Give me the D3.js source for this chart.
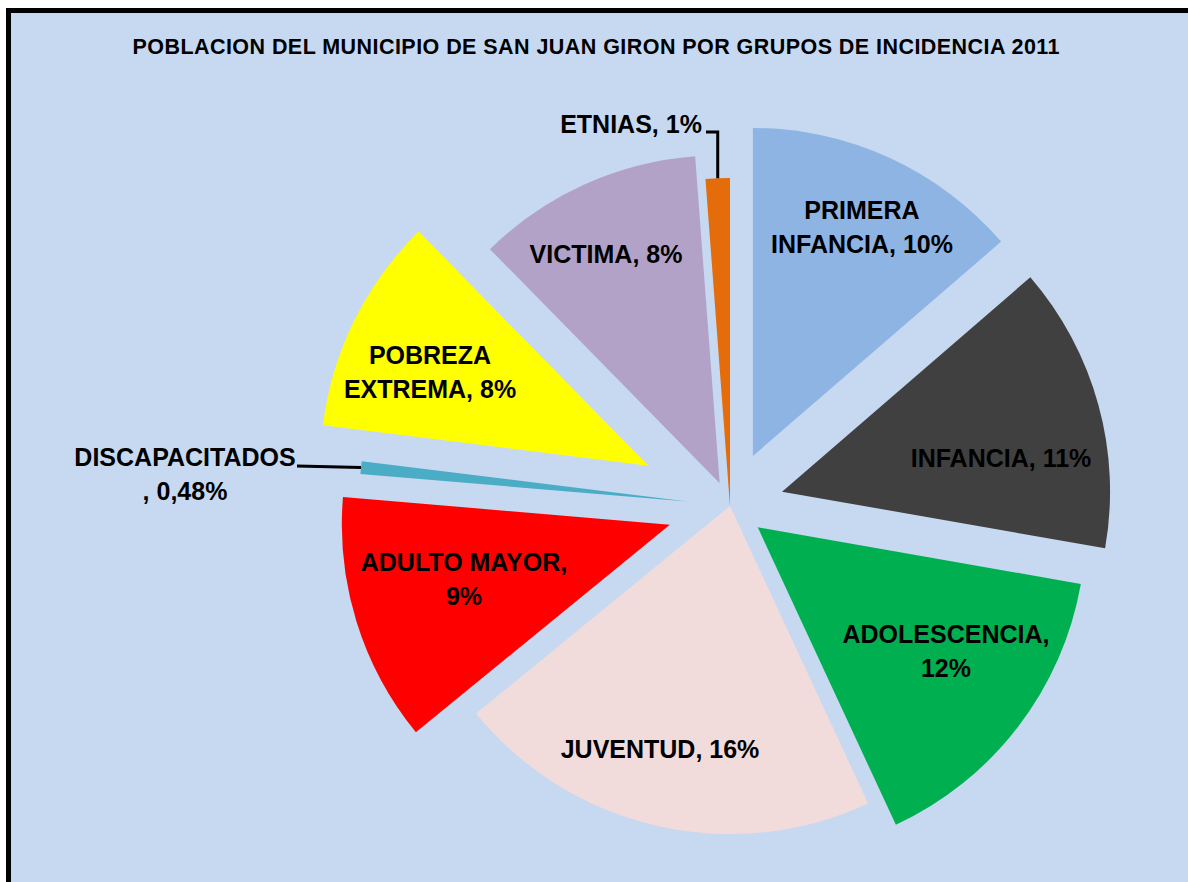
<!DOCTYPE html>
<html>
<head>
<meta charset="utf-8">
<script src="https://cdn.jsdelivr.net/npm/d3@7"></script>
<style>
  html, body { margin: 0; padding: 0; background: #ffffff; }
  svg { display: block; }
  text { font-family: "Liberation Sans", Arial, sans-serif; font-weight: bold; fill: #000; }
</style>
</head>
<body>
<svg id="chart" width="1188" height="882"></svg>
<script>
// ---- data ----
const titleText = "POBLACION DEL MUNICIPIO DE SAN JUAN GIRON POR GRUPOS DE INCIDENCIA 2011";
const categories = ["PRIMERA INFANCIA", "INFANCIA", "ADOLESCENCIA", "JUVENTUD", "ADULTO MAYOR",
                    "DISCAPACITADOS", "POBREZA EXTREMA", "VICTIMA", "ETNIAS"];
// shares (percent of population, labels are rounded)
const values = [10.32, 10.65, 11.57, 15.87, 9.25, 0.47, 8.07, 8.43, 0.90];
const valueLabels = ["10%", "11%", "12%", "16%", "9%", "0,48%", "8%", "8%", "1%"];
const labelLines = [
  ["PRIMERA", "INFANCIA, 10%"],
  ["INFANCIA, 11%"],
  ["ADOLESCENCIA,", "12%"],
  ["JUVENTUD, 16%"],
  ["ADULTO MAYOR,", "9%"],
  ["DISCAPACITADOS", ", 0,48%"],
  ["POBREZA", "EXTREMA, 8%"],
  ["VICTIMA, 8%"],
  ["ETNIAS, 1%"]
];

// ---- styling / layout ----
const colors = ["#8EB4E3", "#404040", "#00B050", "#F2DCDB", "#FF0000",
                "#4BACC6", "#FFFF00", "#B3A2C7", "#E46C0A"];
const explode = [55, 54, 35, 0, 63, 43, 91, 25, 0];
// label block centers relative to the pie centre
const labelOffsets = [[132, -279], [271, -48], [216, 145], [-70, 243], [-266, 73],
                      [-545, -32], [-300, -134], [-124, -252], [-99, -382]];
const leaderSlices = [5, 8];

const W = 1188, H = 882;
const cx = 730, cy = 506, R = 328;
const svg = d3.select("#chart");

// chart area with thick border (cut off at right & bottom)
svg.append("rect").attr("x", 0).attr("y", 0).attr("width", W).attr("height", H).attr("fill", "#ffffff");
svg.append("rect")
  .attr("x", 8.5).attr("y", 10.5).attr("width", W + 20).attr("height", H + 20)
  .attr("fill", "#C6D9F1").attr("stroke", "#000").attr("stroke-width", 5);

svg.append("text")
  .attr("x", 596).attr("y", 54)
  .attr("text-anchor", "middle")
  .attr("textLength", 927)
  .attr("lengthAdjust", "spacing")
  .style("font-size", "21.5px")
  .text(titleText);

const pie = d3.pie().sort(null).value(d => d)(values);
const arc = d3.arc().innerRadius(0).outerRadius(R);

const g = svg.append("g").attr("transform", `translate(${cx},${cy})`);

function shift(d, i) {
  const a = (d.startAngle + d.endAngle) / 2;
  return [Math.sin(a) * explode[i], -Math.cos(a) * explode[i]];
}

g.selectAll("path.slice").data(pie).enter().append("path")
  .attr("class", "slice")
  .attr("d", arc)
  .attr("fill", (d, i) => colors[i])
  .attr("transform", (d, i) => { const s = shift(d, i); return `translate(${s[0]},${s[1]})`; });

// labels
const lineH = 34;
const fs = 25;
labelLines.forEach((lines, i) => {
  const [ox, oy] = labelOffsets[i];
  const n = lines.length;
  const t = g.append("text")
    .attr("text-anchor", "middle")
    .style("font-size", fs + "px");
  lines.forEach((ln, k) => {
    t.append("tspan")
      .attr("x", ox)
      .attr("y", oy + (k - (n - 1) / 2) * lineH + fs * 0.36)
      .text(ln);
  });
});

// leader lines
leaderSlices.forEach(i => {
  const d = pie[i];
  const a = (d.startAngle + d.endAngle) / 2;
  const s = shift(d, i);
  const ex = s[0] + Math.sin(a) * R;
  const ey = s[1] - Math.cos(a) * R;
  let pts;
  if (i === 5) {
    const tx = labelOffsets[i][0] + 112, ty = labelOffsets[i][1] - 8;
    pts = [[tx, ty], [ex, ey]];
  } else {
    const tx = labelOffsets[i][0] + 75, ty = labelOffsets[i][1] + 8;
    pts = [[tx, ty], [ex, ty], [ex, ey]];
  }
  g.append("path")
    .attr("d", d3.line()(pts))
    .attr("fill", "none").attr("stroke", "#000").attr("stroke-width", 3);
});
</script>
</body>
</html>
